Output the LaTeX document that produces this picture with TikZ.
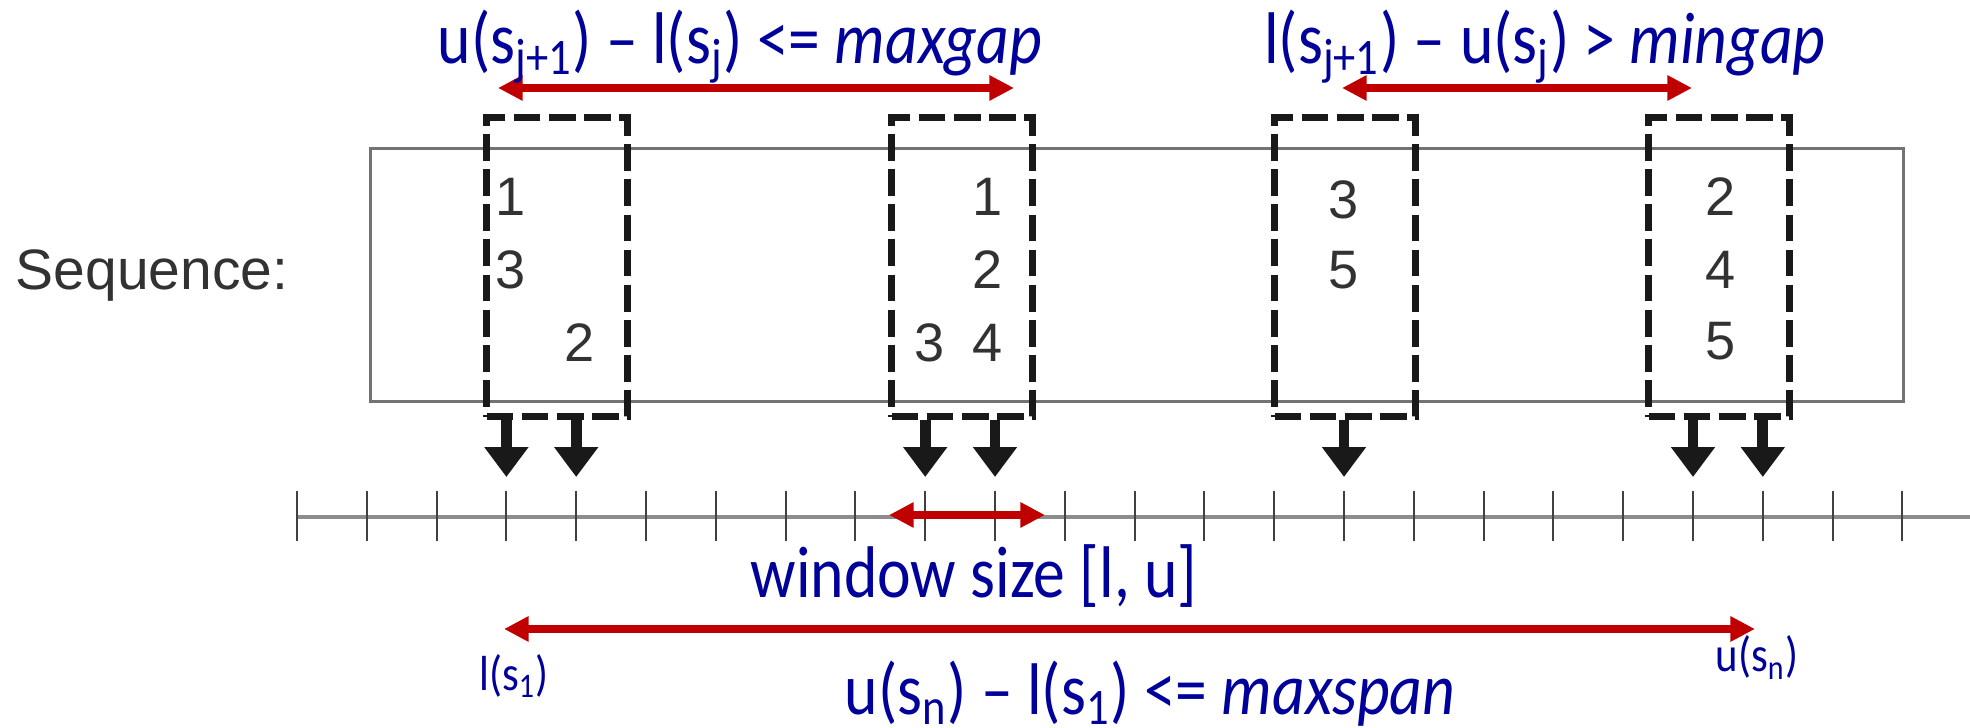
\documentclass[tikz,border=0pt]{standalone}
\usepackage{fontspec}
\setmainfont{Liberation Sans}
\newfontfamily\labfont[FakeStretch=0.87]{Carlito}
\usetikzlibrary{arrows.meta}
\definecolor{labblue}{RGB}{0,0,155}
\definecolor{spanred}{RGB}{192,0,0}
\definecolor{seqgray}{RGB}{115,115,115}
\definecolor{itemgray}{RGB}{50,50,50}

\begin{document}
\begin{tikzpicture}[x=0.01cm, y=-0.01cm,
  seqbox/.style={draw=seqgray, line width=0.9pt, minimum width=15.32cm, minimum height=2.53cm},
  seqtext/.style={text=itemgray, font=\fontsize{16.2}{19}\selectfont, inner sep=0pt},
  winbox/.style={draw=black!90, line width=2pt, dash pattern=on 7.6pt off 2.4pt,
    minimum width=1.41cm, minimum height=2.99cm},
  digit/.style={text=itemgray, font=\fontsize{15.4}{18}\selectfont, inner sep=0pt},
  axis/.style={draw=black!45, line width=1.4pt},
  axistick/.style={draw=black!75, line width=0.6pt},
  downarrow/.style={draw=black!90, line width=3.1pt, -{Triangle[length=8.5pt,width=12pt]}},
  gaparrow/.style={draw=spanred, line width=2.3pt,
    {Triangle[length=7pt,width=6.8pt]}-{Triangle[length=7pt,width=6.8pt]}},
  biglab/.style={text=labblue, font=\labfont\fontsize{20.8}{25}\selectfont, inner sep=0pt, anchor=base},
  smalllab/.style={text=labblue, font=\labfont\fontsize{14}{17}\selectfont, inner sep=0pt, anchor=base}]
\useasboundingbox (0,0) rectangle (1970,728);

% --- SEQUENCE BOX ---
\node[seqbox, anchor=north west] (seq) at (369,147) {};
\node[seqtext, anchor=base west] (seqlab) at (15,290) {Sequence:};

% --- TIME AXIS ---
\coordinate (tend) at (1970,517);
\foreach \i in {0,...,23} {
    \coordinate (t\i) at ({297+69.8*\i},517);
}
\draw[axis] (t0) -- (tend);
\foreach \i in {0,...,23} {
    \draw[axistick] (t\i) ++(0,-26) -- ++(0,50);
}

% --- WINDOWS ---
\foreach \name/\x in {w1/483,w2/888,w3/1271,w4/1645} {
    \node[winbox, anchor=north west] (\name) at (\x,114) {};
}

% --- ITEMS ---
\foreach \x/\y/\d in {511/197/1,511/270/3,580/343/2,
                      988/197/1,988/270/2,930/343/3,988/343/4,
                      1344/200/3,1344/270/5,
                      1721/197/2,1721/270/4,1721/341/5} {
    \node[digit] (d\x-\y) at (\x,\y) {\d};
}

% --- ARROWS TO THE AXIS ---
\foreach \w/\t in {w1/3,w1/4,w2/9,w2/10,w3/15,w4/20,w4/21} {
    \path (t\t) ++(0,-40) coordinate (tip\t);
    \draw[downarrow] (\w.south -| t\t) -- (tip\t);
}

% --- CONSTRAINTS ---
\coordinate (gapL) at (498,88);   \coordinate (gapR) at (1014,88);
\coordinate (minL) at (1342,88);  \coordinate (minR) at (1692,88);
\coordinate (winL) at (889,515);  \coordinate (winR) at (1045,515);
\coordinate (spanL) at (504,629); \coordinate (spanR) at (1755,629);

\draw[gaparrow] (gapL) -- (gapR);
\draw[gaparrow] (minL) -- (minR);
\draw[gaparrow] (winL) -- (winR);
\draw[gaparrow] (spanL) -- (spanR);

\node[biglab] (maxgap) at (740,64) {u(s\textsubscript{j+1}) – l(s\textsubscript{j}) <= \textit{maxgap}};
\node[biglab] (mingap) at (1545,64) {l(s\textsubscript{j+1}) – u(s\textsubscript{j}) > \textit{mingap}};
\node[biglab] (winsize) at (974,598) {window size [l, u]};
\node[biglab] (maxspan) at (1150,714) {u(s\textsubscript{n}) – l(s\textsubscript{1}) <= \textit{maxspan}};
\node[smalllab] (first) at (514,690) {l(s\textsubscript{1})};
\node[smalllab] (last) at (1757,672) {u(s\textsubscript{n})};

\end{tikzpicture}
\end{document}
